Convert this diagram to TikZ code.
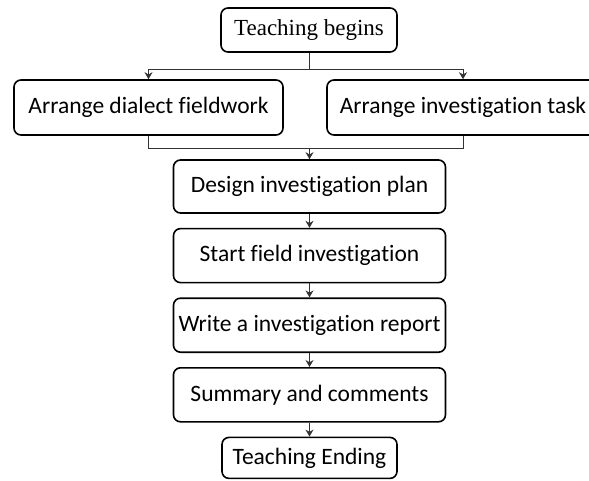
\documentclass[tikz,border=0pt]{standalone}
\usepackage{fontspec}
\setmainfont{Carlito}[Ligatures=NoCommon]
\newfontfamily\timesfont{Liberation Serif}
\usetikzlibrary{arrows.meta,positioning}

\begin{document}
\begin{tikzpicture}[
        x=1pt, y=1pt,
        node distance=14pt,
        stepbox/.style={rectangle, draw=black, fill=white, rounded corners=7pt,
                        minimum width=272pt, minimum height=54pt, inner sep=0pt,
                        font=\fontsize{23.5}{28}\selectfont, line width=1.6pt},
        link/.style={draw=black!80, line width=0.9pt},
        arrow/.style={link, -{Stealth[length=7pt, width=8pt]}}
    ]
        \clip (0,0) rectangle (589,-481);
        \fill[white] (0,0) rectangle (589,-481);

        \node[stepbox, minimum width=176pt, minimum height=44pt,
              font=\timesfont\fontsize{23}{27}\selectfont] (begins) at (309,-30) {Teaching begins};
        \node[stepbox, minimum width=269pt, minimum height=55pt] (fieldwork) at (148.5,-107.5) {Arrange dialect fieldwork};
        \node[stepbox, minimum height=55pt] (task) at (463,-107.5) {Arrange investigation task};

        \node[stepbox, minimum height=53pt] (design) at (309.5,-186.5) {Design investigation plan};
        \node[stepbox, below=of design] (field) {Start field investigation};
        \node[stepbox, below=of field] (report) {Write a investigation report};
        \node[stepbox, below=of report] (summary) {Summary and comments};
        \node[stepbox, below=of summary, minimum width=175pt, minimum height=41pt] (ending) {Teaching Ending};

        % split and merge around the two parallel tasks
        \draw[link] (begins.south) -- ++(0,-17) coordinate (split);
        \draw[arrow] (split) -| (fieldwork.north);
        \draw[arrow] (split) -| (task.north);
        \path (design.north) ++(0,11) coordinate (merge);
        \draw[link] (fieldwork.south) |- (merge) -| (task.south);
        \draw[arrow] (merge) -- (design.north);

        \foreach \a/\b in {design/field, field/report, report/summary, summary/ending}
            \draw[arrow] (\a) -- (\b);
    \end{tikzpicture}
\end{document}
